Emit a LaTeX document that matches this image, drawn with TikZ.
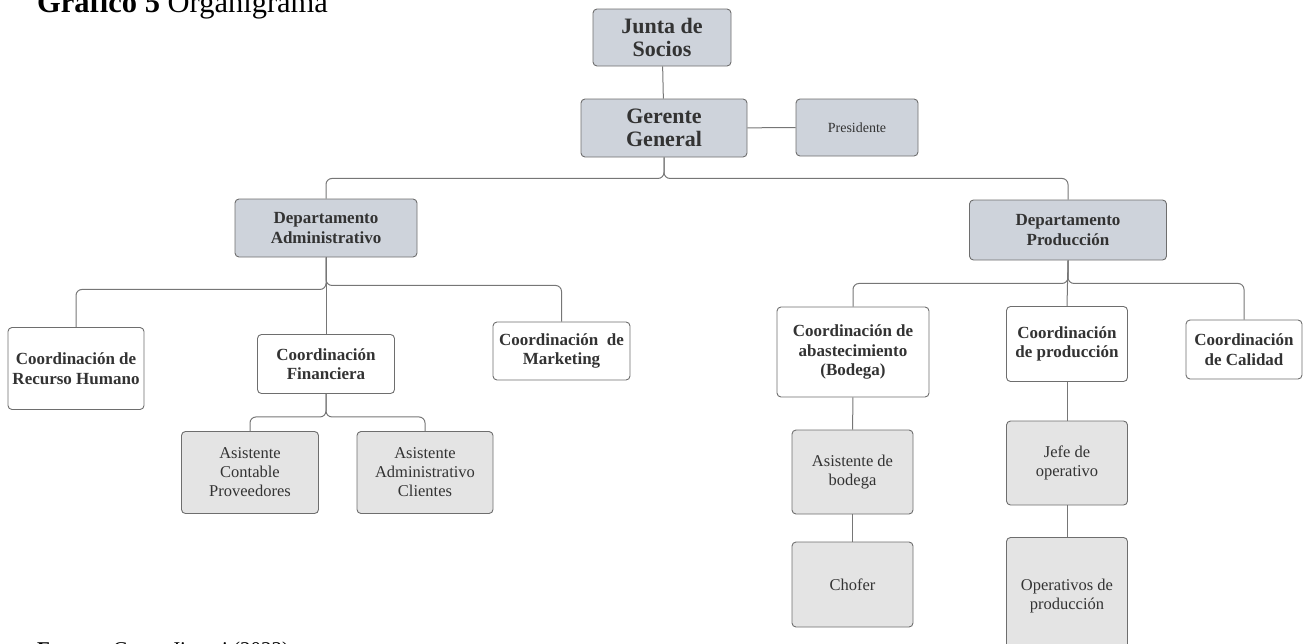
\documentclass[tikz,border=0pt]{standalone}
\usepackage{fontspec}
\setmainfont{Liberation Serif}
\usetikzlibrary{positioning}
\definecolor{boxline}{HTML}{6E6E6E}
\definecolor{linkgray}{HTML}{767676}
\definecolor{headfill}{HTML}{CED3DB}
\definecolor{asisfill}{HTML}{E4E4E4}
\definecolor{txt}{HTML}{333333}
\tikzset{
  base/.style     = {rectangle, rounded corners=4pt, draw=boxline, line width=0.9pt,
                      align=center, text=txt, inner sep=0pt},
  headbox/.style  = {base, fill=headfill, font=\fontsize{22}{23}\selectfont\bfseries},
  deptbox/.style  = {base, fill=headfill, font=\fontsize{17}{19.5}\selectfont\bfseries},
  coordbox/.style = {base, fill=white, font=\fontsize{17}{19.5}\selectfont\bfseries},
  asisbox/.style  = {base, fill=asisfill, font=\fontsize{16.5}{19}\selectfont},
  link/.style     = {draw=linkgray, line width=1pt, rounded corners=6pt},
  caption/.style  = {anchor=base west, inner sep=0pt, text=black},
}
\begin{document}
\begin{tikzpicture}[x=1pt, y=-1pt]
  \useasboundingbox (0,0) rectangle (1303,643);
  % captions
  \node[caption, font=\fontsize{30.5}{34}\selectfont] (title) at (37,12) {\textbf{Gráfico 5} Organigrama};
  \node[caption, font=\fontsize{21}{25}\selectfont] (source) at (37,656) {\textbf{Fuente:} Grupo Jimeyi (2022)};
  % top levels
  \node[headbox, minimum width=138, minimum height=57] (junta) at (662,37.5) {Junta de\\Socios};
  \node[headbox, minimum width=166, minimum height=58] (gerente) at (664,128) {Gerente\\General};
  \node[base, fill=headfill, font=\fontsize{14}{16}\selectfont, minimum width=122, minimum height=57] (presidente) at (857,127.5) {Presidente};
  % departments
  \node[deptbox, minimum width=182, minimum height=58] (admin) at (326,228) {Departamento\\Administrativo};
  \node[deptbox, minimum width=197, minimum height=60] (prod) at (1068,230) {Departamento\\Producción};
  % administrative branch
  \node[coordbox, minimum width=136, minimum height=82] (rrhh) at (76,368.5) {Coordinación de\\Recurso Humano};
  \node[coordbox, minimum width=137, minimum height=59] (finan) at (326,364) {Coordinación\\Financiera};
  \node[coordbox, minimum width=137, minimum height=58] (mkt) at (561.5,351) {Coordinación\enspace de\\Marketing};
  \node[asisbox, minimum width=137, minimum height=82] (contable) at (250,472.5) {Asistente\\Contable\\Proveedores};
  \node[asisbox, minimum width=136, minimum height=82] (asisadm) at (425,472.5) {Asistente\\Administrativo\\Clientes};
  % production branch
  \node[coordbox, minimum width=152, minimum height=90] (abast) at (853,352) {Coordinación de\\abastecimiento\\(Bodega)};
  \node[coordbox, minimum width=121, minimum height=75] (coprod) at (1067,344) {Coordinación\\de producción};
  \node[coordbox, minimum width=116, minimum height=59] (calidad) at (1244,349.5) {Coordinación\\de Calidad};
  \node[asisbox, minimum width=121, minimum height=84] (bodega) at (852.5,472) {Asistente de\\bodega};
  \node[asisbox, minimum width=121, minimum height=85] (chofer) at (852.5,584.5) {Chofer};
  \node[asisbox, minimum width=121, minimum height=84] (jefe) at (1067,463) {Jefe de\\operativo};
  \node[asisbox, minimum width=121, minimum height=118] (operativos) at (1067,596.5) {Operativos de\\producción};
  % connectors
  \draw[link] (junta) -- (gerente);
  \draw[link] (gerente) -- (presidente);
  \draw[link] (gerente.south) -- ++(0,21) -| (admin.north);
  \draw[link] (gerente.south) -- ++(0,21) -| (prod.north);
  \draw[link] (admin.south) -- ++(0,32) -| (rrhh.north);
  \draw[link] (admin.south) -- (finan.north);
  \draw[link] (admin.south) -- ++(0,28) -| (mkt.north);
  \draw[link] (finan.south) -- ++(0,23) -| (contable.north);
  \draw[link] (finan.south) -- ++(0,23) -| (asisadm.north);
  \draw[link] (prod.south) -- ++(0,23) -| (abast.north);
  \draw[link] (prod.south) -- ++(0,23) -| (calidad.north);
  \draw[link] (prod.south) -- (coprod.north);
  \draw[link] (abast) -- (bodega);
  \draw[link] (bodega) -- (chofer);
  \draw[link] (coprod) -- (jefe);
  \draw[link] (jefe) -- (operativos);
\end{tikzpicture}
\end{document}
